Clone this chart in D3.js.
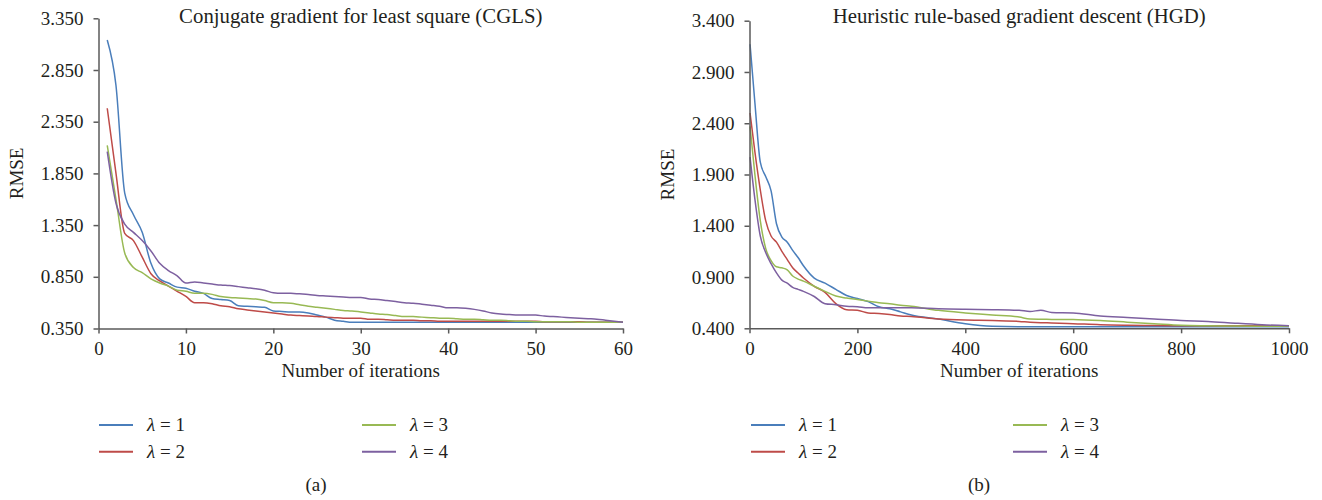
<!DOCTYPE html>
<html>
<head>
<meta charset="utf-8">
<script src="https://cdn.jsdelivr.net/npm/d3@7"></script>
<style>
  body { margin: 0; background: #fff; }
  svg text { font-family: "Liberation Serif", "DejaVu Serif", serif; fill: #231f20; }
</style>
</head>
<body>
<div id="chart"></div>
<script>
'use strict';

// CGLS panel, one value per iteration 1..60
const cglsIter = d3.range(1, 61);
const cglsL1 = [3.14, 2.70, 1.66, 1.45, 1.28, 0.98, 0.83, 0.79, 0.75, 0.74,
  0.71, 0.69, 0.64, 0.63, 0.62, 0.57, 0.565, 0.56, 0.555, 0.52,
  0.515, 0.51, 0.51, 0.50, 0.48, 0.46, 0.43, 0.42, 0.41, 0.41,
  0.41, 0.41, 0.41, 0.41, 0.41, 0.41, 0.41, 0.41, 0.41, 0.41,
  0.41, 0.41, 0.41, 0.41, 0.41, 0.41, 0.41, 0.41, 0.41, 0.41,
  0.41, 0.41, 0.41, 0.41, 0.41, 0.41, 0.41, 0.41, 0.41, 0.41];
const cglsL2 = [2.48, 1.85, 1.27, 1.20, 1.04, 0.88, 0.81, 0.76, 0.71, 0.66,
  0.60, 0.60, 0.59, 0.57, 0.56, 0.54, 0.53, 0.52, 0.51, 0.50,
  0.49, 0.48, 0.475, 0.47, 0.466, 0.46, 0.455, 0.45, 0.45, 0.45,
  0.44, 0.44, 0.435, 0.43, 0.43, 0.43, 0.425, 0.425, 0.42, 0.42,
  0.42, 0.42, 0.42, 0.42, 0.42, 0.42, 0.42, 0.42, 0.42, 0.42,
  0.415, 0.415, 0.415, 0.415, 0.415, 0.41, 0.41, 0.41, 0.41, 0.41];
const cglsL3 = [2.12, 1.60, 1.08, 0.94, 0.89, 0.83, 0.79, 0.76, 0.72, 0.71,
  0.69, 0.69, 0.68, 0.66, 0.65, 0.645, 0.64, 0.635, 0.62, 0.60,
  0.60, 0.595, 0.58, 0.565, 0.555, 0.545, 0.535, 0.525, 0.52, 0.51,
  0.50, 0.49, 0.485, 0.475, 0.466, 0.465, 0.46, 0.455, 0.45, 0.45,
  0.445, 0.44, 0.44, 0.435, 0.43, 0.43, 0.425, 0.42, 0.42, 0.415,
  0.415, 0.415, 0.415, 0.415, 0.41, 0.41, 0.41, 0.41, 0.41, 0.41];
const cglsL4 = [2.06, 1.56, 1.36, 1.28, 1.20, 1.10, 0.98, 0.91, 0.86, 0.79,
  0.80, 0.79, 0.78, 0.77, 0.765, 0.755, 0.745, 0.735, 0.72, 0.695,
  0.69, 0.69, 0.685, 0.68, 0.67, 0.665, 0.66, 0.655, 0.65, 0.65,
  0.635, 0.63, 0.62, 0.61, 0.60, 0.595, 0.585, 0.575, 0.565, 0.55,
  0.55, 0.545, 0.535, 0.52, 0.50, 0.49, 0.485, 0.48, 0.48, 0.48,
  0.47, 0.465, 0.46, 0.455, 0.45, 0.445, 0.44, 0.43, 0.42, 0.41];

// HGD panel, sampled iterations
const hgdIter = [1, 10, 20, 30, 40, 50, 60, 70, 80, 90, 100, 120, 140, 160, 180,
  200, 220, 240, 260, 280, 300, 350, 400, 450, 500, 520, 540, 560, 600, 650,
  700, 750, 800, 850, 900, 950, 1000];
const hgdL1 = [3.17, 2.60, 2.02, 1.88, 1.74, 1.42, 1.29, 1.24, 1.16, 1.09, 1.01,
  0.89, 0.84, 0.78, 0.72, 0.69, 0.66, 0.61, 0.59, 0.56, 0.53, 0.49, 0.445,
  0.42, 0.415, 0.415, 0.415, 0.415, 0.415, 0.415, 0.415, 0.415, 0.415,
  0.415, 0.415, 0.415, 0.415];
const hgdL2 = [2.50, 2.12, 1.75, 1.45, 1.30, 1.24, 1.15, 1.07, 0.99, 0.94, 0.89,
  0.81, 0.75, 0.64, 0.58, 0.575, 0.55, 0.545, 0.535, 0.52, 0.515, 0.49, 0.48,
  0.477, 0.467, 0.46, 0.455, 0.452, 0.445, 0.435, 0.43, 0.427, 0.425,
  0.425, 0.425, 0.425, 0.425];
const hgdL3 = [2.37, 1.90, 1.45, 1.18, 1.06, 1.00, 0.99, 0.97, 0.91, 0.88, 0.86,
  0.81, 0.76, 0.715, 0.695, 0.68, 0.665, 0.65, 0.64, 0.625, 0.615, 0.575,
  0.55, 0.53, 0.51, 0.49, 0.488, 0.487, 0.485, 0.475, 0.46, 0.445, 0.43,
  0.425, 0.422, 0.42, 0.42];
const hgdL4 = [2.07, 1.66, 1.30, 1.14, 1.03, 0.94, 0.87, 0.84, 0.80, 0.78, 0.76,
  0.71, 0.64, 0.63, 0.615, 0.61, 0.60, 0.60, 0.60, 0.60, 0.60, 0.59, 0.585,
  0.582, 0.575, 0.565, 0.575, 0.555, 0.55, 0.52, 0.505, 0.49, 0.475, 0.467,
  0.45, 0.435, 0.425];

const seriesNames = ['1', '2', '3', '4'];
const seriesColors = ['#4a7ebb', '#be4b48', '#98b954', '#7d60a0'];

const cglsTicksY = [0.35, 0.85, 1.35, 1.85, 2.35, 2.85, 3.35];
const hgdTicksY = [0.4, 0.9, 1.4, 1.9, 2.4, 2.9, 3.4];

const panels = [
  {
    title: 'Conjugate gradient for least square (CGLS)', tag: '(a)',
    iter: cglsIter, series: [cglsL1, cglsL2, cglsL3, cglsL4],
    xDomain: [0, 60], xTicks: d3.range(0, 61, 10), yTicks: cglsTicksY,
    left: 98.5, right: 623, top: 18.3, bottom: 328.5,
    legendX: 99, legendX2: 362, tagX: 316,
  },
  {
    title: 'Heuristic rule-based gradient descent (HGD)', tag: '(b)',
    iter: hgdIter, series: [hgdL1, hgdL2, hgdL3, hgdL4],
    xDomain: [0, 1000], xTicks: d3.range(0, 1001, 200), yTicks: hgdTicksY,
    left: 749.5, right: 1289, top: 20.7, bottom: 328.3,
    legendX: 751, legendX2: 1013, tagX: 979,
  },
];

const svg = d3.select('#chart').append('svg')
  .attr('width', 1322).attr('height', 500);

function drawPanel(p) {
  const x = d3.scaleLinear().domain(p.xDomain).range([p.left, p.right]);
  const y = d3.scaleLinear()
    .domain([p.yTicks[0], p.yTicks[p.yTicks.length - 1]])
    .range([p.bottom, p.top]);
  const g = svg.append('g');

  // series
  const line = d3.line()
    .x(d => x(d[0])).y(d => y(d[1]))
    .curve(d3.curveMonotoneX);
  p.series.forEach((vals, i) => {
    g.append('path')
      .datum(p.iter.map((it, j) => [it, vals[j]]))
      .attr('fill', 'none')
      .attr('stroke', seriesColors[i])
      .attr('stroke-width', 1.5)
      .attr('d', line);
  });

  // axes
  const xAxis = g.append('g')
    .attr('transform', 'translate(0,' + p.bottom + ')')
    .call(d3.axisBottom(x).tickValues(p.xTicks).tickSize(5).tickPadding(8)
      .tickSizeOuter(0).tickFormat(d3.format('d')));
  const yAxis = g.append('g')
    .attr('transform', 'translate(' + p.left + ',0)')
    .call(d3.axisLeft(y).tickValues(p.yTicks).tickSize(5).tickPadding(10)
      .tickSizeOuter(0).tickFormat(d3.format('.3f')));
  [xAxis, yAxis].forEach(a => {
    a.selectAll('path, line').attr('stroke', '#5a5a5a').attr('stroke-width', 1.5);
    a.selectAll('text').attr('font-size', 19)
      .style('font-family', '"Liberation Serif", serif').attr('fill', '#231f20');
  });

  const cx = (p.left + p.right) / 2;
  g.append('text').attr('x', cx).attr('y', 23)
    .attr('text-anchor', 'middle').attr('font-size', 20.8).text(p.title);
  g.append('text').attr('x', cx).attr('y', 377)
    .attr('text-anchor', 'middle').attr('font-size', 19).text('Number of iterations');
  g.append('text')
    .attr('transform', 'translate(' + (p.left - 76) + ',' + ((p.top + p.bottom) / 2) + ') rotate(-90)')
    .attr('text-anchor', 'middle').attr('font-size', 19).text('RMSE');

  // legend
  seriesNames.forEach((name, i) => {
    const lx = i < 2 ? p.legendX : p.legendX2;
    const ly = 425 + (i % 2) * 26.7;
    g.append('line')
      .attr('x1', lx).attr('x2', lx + 34).attr('y1', ly).attr('y2', ly)
      .attr('stroke', seriesColors[i]).attr('stroke-width', 2);
    const t = g.append('text').attr('x', lx + 48).attr('y', ly + 6)
      .attr('font-size', 19);
    t.append('tspan').attr('font-style', 'italic').text('λ');
    t.append('tspan').text(' = ' + name);
  });

  g.append('text').attr('x', p.tagX).attr('y', 491)
    .attr('text-anchor', 'middle').attr('font-size', 19).text(p.tag);
}

panels.forEach(drawPanel);
</script>
</body>
</html>
